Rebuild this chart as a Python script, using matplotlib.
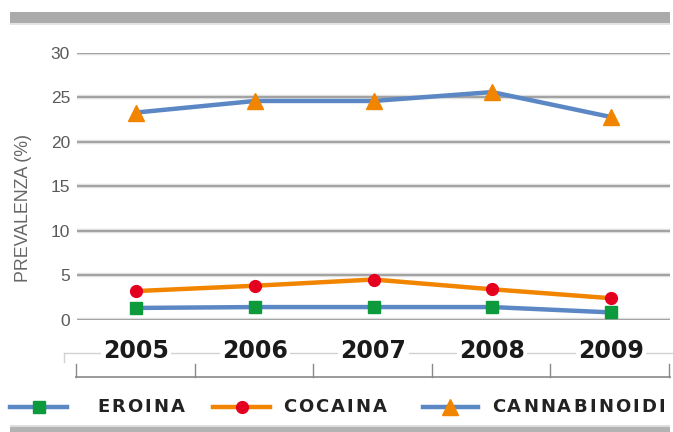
import matplotlib
matplotlib.use("Agg")
import matplotlib.pyplot as plt
from matplotlib.lines import Line2D
from matplotlib.patches import Rectangle

# Data
years = ["2005", "2006", "2007", "2008", "2009"]
eroina = [1.3, 1.4, 1.4, 1.4, 0.8]
cocaina = [3.2, 3.8, 4.5, 3.4, 2.4]
cannabinoidi = [23.3, 24.6, 24.6, 25.6, 22.8]
series_names = ["EROINA", "COCAINA", "CANNABINOIDI"]
y_ticks = [0, 5, 10, 15, 20, 25, 30]

W, H = 673, 432
BLUE = "#5b87c4"
ORANGE = "#f28500"
GREEN = "#0d9a3c"
RED = "#e60020"

fig = plt.figure(figsize=(W / 100, H / 100), dpi=100)


def fx(px):
    return px / W


def fy(py):
    return 1 - py / H


ax_left, ax_right, ax_top, ax_bot = 77, 670, 53, 319.5
ax = fig.add_axes([fx(ax_left), fy(ax_bot), fx(ax_right - ax_left),
                   (ax_bot - ax_top) / H])

x = list(range(len(years)))
ax.set_xlim(-0.5, len(years) - 0.5)
ax.set_ylim(0, 30)

for v in y_ticks:
    ax.axhline(v, color="#e2e2e2", lw=3.2, zorder=0)
    ax.axhline(v, color="#a3a3a3", lw=1.5, zorder=0.5)

ax.plot(x, eroina, color=BLUE, lw=3.2, marker="s", ms=8,
        mfc=GREEN, mec=GREEN, clip_on=False, zorder=3)
ax.plot(x, cocaina, color=ORANGE, lw=3.2, marker="o", ms=8.5,
        mfc=RED, mec=RED, clip_on=False, zorder=4)
ax.plot(x, cannabinoidi, color=BLUE, lw=3.2, marker="^", ms=12,
        mfc=ORANGE, mec=ORANGE, clip_on=False, zorder=5)

ax.set_yticks(y_ticks)
ax.set_yticklabels([str(v) for v in y_ticks], family="Liberation Sans",
                   fontsize=12.5, color="#5a5a5a")
ax.tick_params(axis="y", length=0, pad=5)
ax.set_xticks([])
for s in ax.spines.values():
    s.set_visible(False)

fig.text(fx(24), fy(208), "PREVALENZA (%)", rotation=90, ha="center",
         va="center", family="Liberation Sans", fontsize=12.8, color="#666666")

# Category table under the plot
fig.add_artist(Line2D([fx(64), fx(672)], [fy(352.5), fy(352.5)],
                      color="#d2d2d2", lw=1))
fig.add_artist(Line2D([fx(64), fx(64)], [fy(352.5), fy(362)],
                      color="#d2d2d2", lw=1))
fig.add_artist(Line2D([fx(76), fx(670)], [fy(376.5), fy(376.5)],
                      color="#9a9a9a", lw=1.4))
step = (ax_right - ax_left) / len(years)
for i in range(len(years) + 1):
    xp = 76 + step * i
    fig.add_artist(Line2D([fx(xp), fx(xp)], [fy(364), fy(376.5)],
                          color="#8a8a8a", lw=1))
for i, yr in enumerate(years):
    xp = ax_left + step * (i + 0.5)
    fig.text(fx(xp), fy(351), yr, ha="center", va="center",
             family="DejaVu Sans", fontweight="bold", fontsize=17,
             color="#1a1a1a",
             bbox=dict(facecolor="white", edgecolor="none", pad=1.5))

# Top and bottom bars
fig.add_artist(Rectangle((fx(10), fy(23)), fx(660), 11 / H,
                         facecolor="#ababab", edgecolor="none"))
fig.add_artist(Rectangle((fx(10), fy(25)), fx(660), 2 / H,
                         facecolor="#e4e4e4", edgecolor="none"))
fig.add_artist(Rectangle((fx(10), fy(432)), fx(660), 5.5 / H,
                         facecolor="#b3b3b3", edgecolor="none"))
fig.add_artist(Rectangle((fx(10), fy(426.5)), fx(660), 1.5 / H,
                         facecolor="#dedede", edgecolor="none"))

# Legend
renderer = fig.canvas.get_renderer()


def text_width(s, **kw):
    t = fig.text(0, 0, s, **kw)
    w = t.get_window_extent(renderer=renderer).width
    t.remove()
    return w


def tracked_text(x0, y0, s, tracking, **kw):
    # place each letter at the width of the preceding prefix plus tracking
    for k, ch in enumerate(s):
        if ch == " ":
            continue
        xp = x0 + (text_width("X" + s[:k], **kw) - text_width("X", **kw)
                   if k else 0) + tracking * k
        fig.text(fx(xp), fy(y0), ch, ha="left", va="center", **kw)


legend_y = 406.5
legend_items = [
    (10, 67, 97, BLUE, "s", GREEN, 8),
    (213, 270, 283, ORANGE, "o", RED, 8.5),
    (423, 478, 492, BLUE, "^", ORANGE, 12),
]
for (x0, x1, tx, lc, mk, mc, ms), name in zip(legend_items, series_names):
    fig.add_artist(Line2D([fx(x0), fx(x1)], [fy(legend_y), fy(legend_y)],
                          color=lc, lw=3.2))
    fig.add_artist(Line2D([fx((x0 + x1) / 2)], [fy(legend_y)], marker=mk,
                          ms=ms, mfc=mc, mec=mc, lw=0))
    tracked_text(tx, legend_y, name, 2.2, family="DejaVu Sans",
                 fontweight="bold", fontsize=13, color="#222222")

fig.savefig("out.png", dpi=100, facecolor="white")
